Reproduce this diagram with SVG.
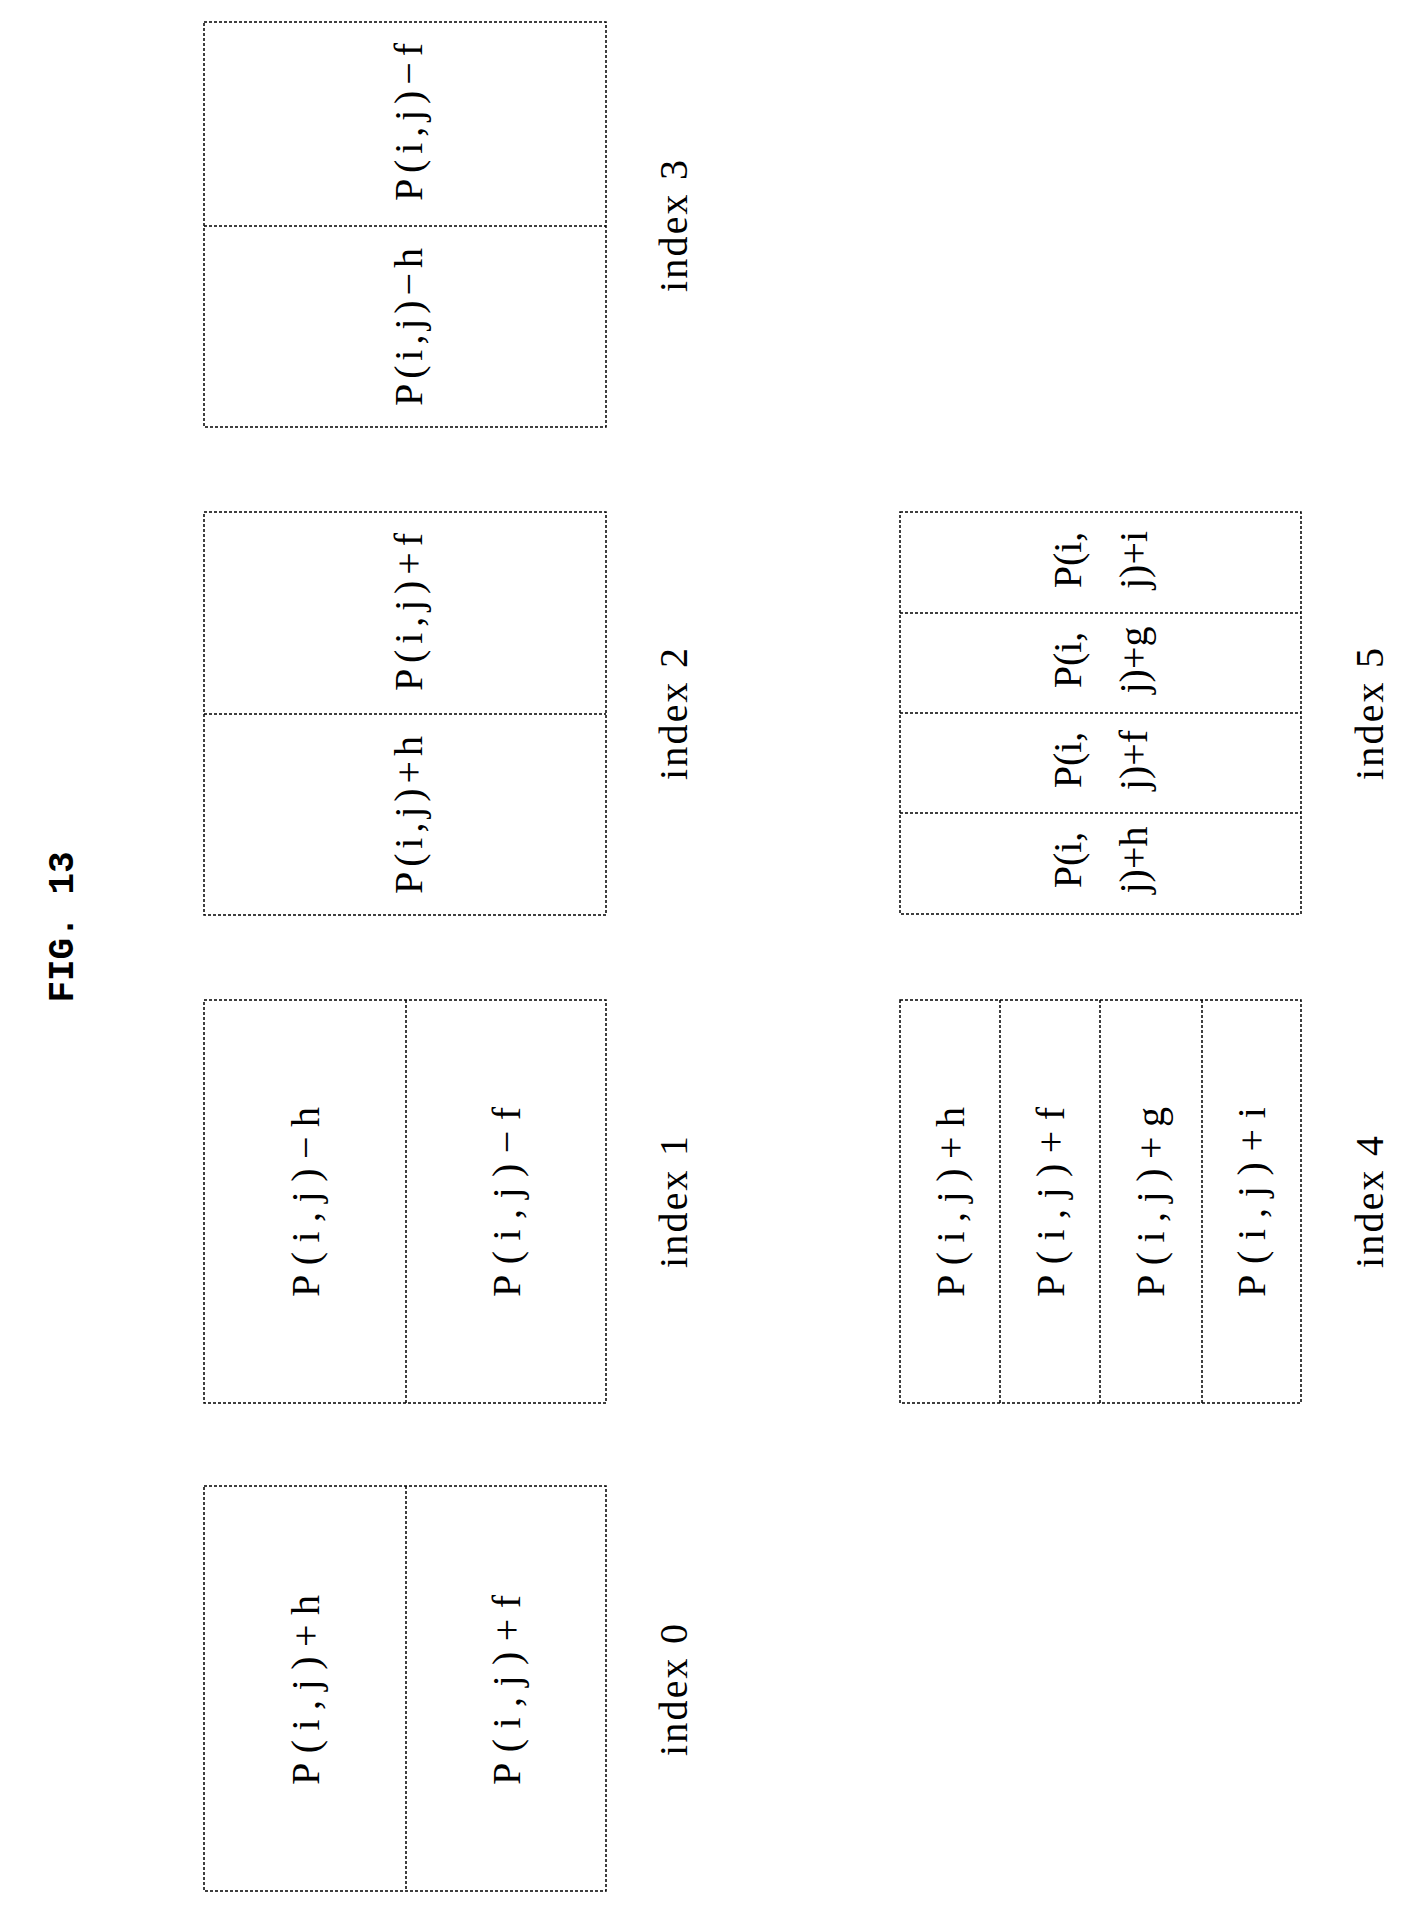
<svg xmlns="http://www.w3.org/2000/svg" width="1403" height="1913" viewBox="0 0 1403 1913">
<style>
.b{fill:none;stroke:#000;stroke-width:1.5;stroke-dasharray:3 2}
.t{font-family:"Liberation Serif",serif;font-size:40px;fill:#000;text-anchor:middle;dominant-baseline:central}
.f{font-family:"Liberation Mono",monospace;font-size:36px;font-weight:bold;text-anchor:middle;dominant-baseline:central}
</style>
<rect width="1403" height="1913" fill="#fff"/>
<text class="f" transform="translate(63,927) rotate(-90)">FIG. 13</text>
<g id="index0">
<rect class="b" x="204" y="1486" width="402" height="405"/><line class="b" x1="406" y1="1486" x2="406" y2="1891"/>
<text class="t" transform="translate(305,1690) rotate(-90)" textLength="190">P(i,j)+h</text>
<text class="t" transform="translate(506,1690) rotate(-90)" textLength="190">P(i,j)+f</text>
<text class="t" transform="translate(673,1690) rotate(-90)" textLength="132">index 0</text>
</g>
<g id="index1">
<rect class="b" x="204" y="1000" width="402" height="403"/><line class="b" x1="406" y1="1000" x2="406" y2="1403"/>
<text class="t" transform="translate(305,1202) rotate(-90)" textLength="190">P(i,j)−h</text>
<text class="t" transform="translate(506,1202) rotate(-90)" textLength="190">P(i,j)−f</text>
<text class="t" transform="translate(673,1202) rotate(-90)" textLength="132">index 1</text>
</g>
<g id="index2">
<rect class="b" x="204" y="512" width="402" height="403"/><line class="b" x1="204" y1="714" x2="606" y2="714"/>
<text class="t" transform="translate(408,815) rotate(-90)" textLength="158">P(i,j)+h</text>
<text class="t" transform="translate(408,612) rotate(-90)" textLength="158">P(i,j)+f</text>
<text class="t" transform="translate(673,714) rotate(-90)" textLength="132">index 2</text>
</g>
<g id="index3">
<rect class="b" x="204" y="22" width="402" height="405"/><line class="b" x1="204" y1="226" x2="606" y2="226"/>
<text class="t" transform="translate(408,327) rotate(-90)" textLength="158">P(i,j)−h</text>
<text class="t" transform="translate(408,122) rotate(-90)" textLength="158">P(i,j)−f</text>
<text class="t" transform="translate(673,226) rotate(-90)" textLength="132">index 3</text>
</g>
<g id="index4">
<rect class="b" x="900" y="1000" width="401" height="403"/>
<line class="b" x1="1000" y1="1000" x2="1000" y2="1403"/><line class="b" x1="1100" y1="1000" x2="1100" y2="1403"/><line class="b" x1="1202" y1="1000" x2="1202" y2="1403"/>
<text class="t" transform="translate(950,1202) rotate(-90)" textLength="190">P(i,j)+h</text>
<text class="t" transform="translate(1050,1202) rotate(-90)" textLength="190">P(i,j)+f</text>
<text class="t" transform="translate(1150,1202) rotate(-90)" textLength="190">P(i,j)+g</text>
<text class="t" transform="translate(1251,1202) rotate(-90)" textLength="190">P(i,j)+i</text>
<text class="t" transform="translate(1369,1202) rotate(-90)" textLength="132">index 4</text>
</g>
<g id="index5">
<rect class="b" x="900" y="512" width="401" height="402"/>
<line class="b" x1="900" y1="613" x2="1301" y2="613"/><line class="b" x1="900" y1="713" x2="1301" y2="713"/><line class="b" x1="900" y1="813" x2="1301" y2="813"/>
<text class="t" transform="translate(1067,860) rotate(-90)">P(i,</text><text class="t" transform="translate(1133,860) rotate(-90)">j)+h</text>
<text class="t" transform="translate(1067,760) rotate(-90)">P(i,</text><text class="t" transform="translate(1133,760) rotate(-90)">j)+f</text>
<text class="t" transform="translate(1067,660) rotate(-90)">P(i,</text><text class="t" transform="translate(1133,660) rotate(-90)">j)+g</text>
<text class="t" transform="translate(1067,560) rotate(-90)">P(i,</text><text class="t" transform="translate(1133,560) rotate(-90)">j)+i</text>
<text class="t" transform="translate(1369,714) rotate(-90)" textLength="132">index 5</text>
</g>
<g id="connectors"/>
</svg>
